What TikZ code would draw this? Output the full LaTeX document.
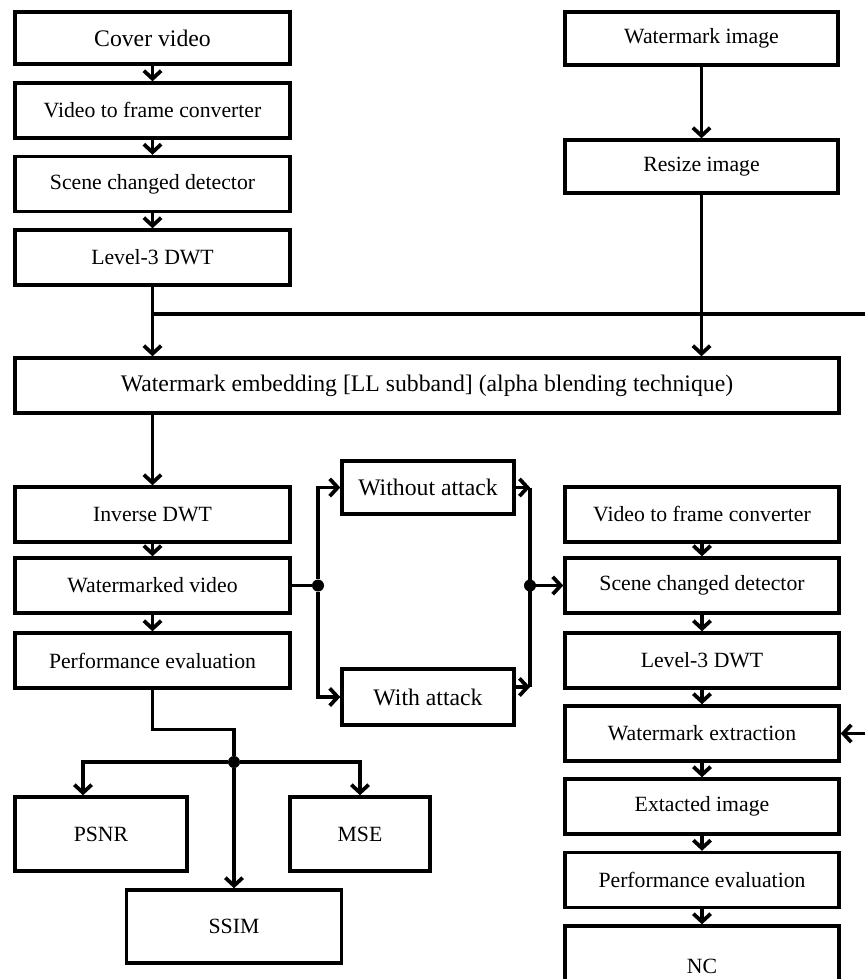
\documentclass[tikz,border=0pt]{standalone}
\usepackage{fontspec}
\setmainfont{Liberation Serif}
\usetikzlibrary{arrows.meta}

\tikzset{
  blk/.style={draw, line width=2.6pt, inner sep=0pt, minimum width=206.25pt, minimum height=41.25pt,
    font=\fontsize{16.3}{19}\selectfont},
  rblk/.style={blk, minimum width=205.5pt},
  bigtxt/.style={font=\fontsize{17.8}{21}\selectfont},
  arr/.style={line width=2.8pt, -{Straight Barb[length=6pt,width=13pt]}},
  wire/.style={line width=2.6pt},
  dot/.style={circle, fill, inner sep=0pt, minimum size=9pt},
}

\begin{document}
\begin{tikzpicture}[x=0.75pt,y=0.75pt,yscale=-1,xscale=1]
  \useasboundingbox (0,0) rectangle (865,979);
  \clip (0,0) rectangle (865,979);

  %Rect left column
  \node[blk, bigtxt, minimum height=39pt] (cover) at (152.5,38) {Cover video};
  \node[blk] (vfc) at (152.5,110.5) {Video to frame converter};
  \node[blk] (scd) at (152.5,184) {Scene changed detector};
  \node[blk] (dwt) at (152.5,257.5) {Level-3 DWT};
  %Rect watermark side
  \node[blk, minimum width=204.75pt, minimum height=39.75pt] (wmimg) at (701.5,38.5) {Watermark image};
  \node[blk, minimum width=204.75pt, minimum height=39.75pt] (resize) at (701.5,166.5) {Resize image};
  %Rect embedding
  \node[blk, bigtxt, minimum width=618pt] (embed) at (427,385.5) {Watermark embedding [LL subband] (alpha blending technique)};
  %Rect after embedding
  \node[blk] (idwt) at (152.5,514.5) {Inverse DWT};
  \node[blk] (wmv) at (152.5,585.5) {Watermarked video};
  \node[blk] (perf) at (152.5,660.5) {Performance evaluation};
  %Rect attacks
  \node[blk, bigtxt, minimum width=129pt, minimum height=39.75pt] (without) at (428,487.5) {Without attack};
  \node[blk, bigtxt, minimum width=129pt, minimum height=42pt] (with) at (428,697) {With attack};
  %Rect extraction column
  \node[rblk] (rvfc) at (702,514.5) {Video to frame converter};
  \node[rblk] (rscd) at (702,585.5) {Scene changed detector};
  \node[rblk] (rdwt) at (702,660.5) {Level-3 DWT};
  \node[rblk] (wmext) at (702,733.5) {Watermark extraction};
  \node[rblk] (ext) at (702,806.5) {Extacted image};
  \node[rblk] (rperf) at (702,880) {Performance evaluation};
  \node[rblk, minimum height=60pt] (nc) at (702,966) {NC};
  %Rect metrics
  \node[blk, minimum width=129pt, minimum height=55.5pt] (psnr) at (101,834) {PSNR};
  \node[blk, minimum width=105pt, minimum height=55.5pt] (mse) at (360,834) {MSE};
  \node[blk, minimum width=161.25pt, minimum height=54.75pt] (ssim) at (234,926.5) {SSIM};

  %Junction dots
  \node[dot] (split) at (318,585.5) {};
  \node[dot] (merge) at (530,585.5) {};
  \node[dot] (tap) at (234,762) {};
  \coordinate (busR) at (865,314);
  \coordinate (extR) at (865,733.5);

  %Straight Lines embedding side
  \draw[arr] (cover) -- (vfc);
  \draw[arr] (vfc) -- (scd);
  \draw[arr] (scd) -- (dwt);
  \draw[arr] (wmimg) -- (resize);
  \draw[arr] (dwt) -- (dwt |- embed.north);
  \draw[wire] (dwt |- busR) -- (busR);
  \draw[arr] (resize) -- (resize |- embed.north);
  \draw[arr] (idwt |- embed.south) -- (idwt);
  \draw[arr] (idwt) -- (wmv);
  \draw[arr] (wmv) -- (perf);

  %Straight Lines attacks
  \draw[wire] (wmv) -- (split);
  \draw[arr] (split) |- (without);
  \draw[arr] (split) |- (with);
  \draw[arr] (without) -- (without -| merge);
  \draw[arr] ([yshift=-7.5pt]with.east) -- ([yshift=-7.5pt]with.east -| merge);
  \draw[wire] (without -| merge) -- ([yshift=-7.5pt]with.east -| merge);
  \draw[arr] (merge) -- (rscd);

  %Straight Lines extraction
  \draw[arr] (rvfc) -- (rscd);
  \draw[arr] (rscd) -- (rdwt);
  \draw[arr] (rdwt) -- (wmext);
  \draw[arr] (wmext) -- (ext);
  \draw[arr] (ext) -- (rperf);
  \draw[arr] (rperf) -- (nc);
  \draw[arr] (extR) -- (wmext);

  %Straight Lines metrics
  \draw[wire] (perf.south) -- ++(0,40) -| (tap);
  \draw[arr] (tap) -| ([xshift=-13.5pt]psnr.north);
  \draw[arr] (tap) -| (mse);
  \draw[arr] (tap) -- (ssim);

\end{tikzpicture}
\end{document}
